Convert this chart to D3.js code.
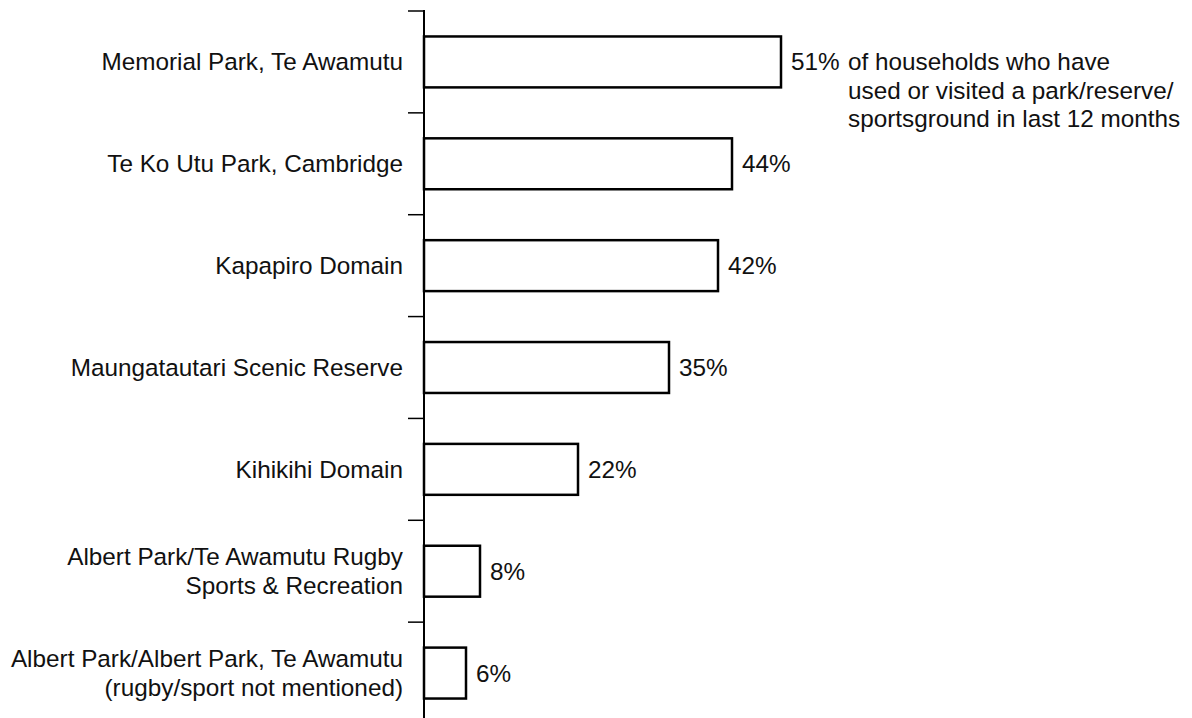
<!DOCTYPE html>
<html>
<head>
<meta charset="utf-8">
<script src="https://cdn.jsdelivr.net/npm/d3@7"></script>
<style>
  html, body { margin: 0; padding: 0; background: #fff; }
  svg text { font-family: "Liberation Sans", Arial, Helvetica, sans-serif; fill: #111; }
</style>
</head>
<body>
<svg id="chart" width="1192" height="718"></svg>
<script>
// Parks and reserves visited by households in the last 12 months
const categories = [
  ["Memorial Park, Te Awamutu"],
  ["Te Ko Utu Park, Cambridge"],
  ["Kapapiro Domain"],
  ["Maungatautari Scenic Reserve"],
  ["Kihikihi Domain"],
  ["Albert Park/Te Awamutu Rugby", "Sports & Recreation"],
  ["Albert Park/Albert Park, Te Awamutu", "(rugby/sport not mentioned)"]
];
const values = [51, 44, 42, 35, 22, 8, 6];
const valueLabels = ["51%", "44%", "42%", "35%", "22%", "8%", "6%"];
const noteLines = [
  "of households who have",
  "used or visited a park/reserve/",
  "sportsground in last 12 months"
];

const svg = d3.select("#chart");
const fontSize = 24.3;
const lineGap = 28.5;

const keys = categories.map((c, i) => i);

const x = d3.scaleLinear().domain([0, 51]).range([424, 781]);
const y = d3.scaleBand().domain(keys).range([11, 724]).paddingInner(0.5).paddingOuter(0.25);

// Category axis: line plus ticks between categories
const axisX = x(0);
svg.append("line")
  .attr("x1", axisX).attr("x2", axisX)
  .attr("y1", 10).attr("y2", 718)
  .attr("stroke", "#000").attr("stroke-width", 2);

const step = y.step();
const boundaries = keys.map(k => y(k) - step * 0.25);
svg.selectAll("line.tick").data(boundaries).enter().append("line")
  .attr("class", "tick")
  .attr("x1", axisX - 16).attr("x2", axisX)
  .attr("y1", d => d).attr("y2", d => d)
  .attr("stroke", "#000").attr("stroke-width", 1.5);

// Bars
svg.selectAll("rect.bar").data(values).enter().append("rect")
  .attr("class", "bar")
  .attr("x", axisX)
  .attr("y", (d, i) => y(i))
  .attr("width", d => x(d) - axisX)
  .attr("height", y.bandwidth())
  .attr("fill", "#fff")
  .attr("stroke", "#000")
  .attr("stroke-width", 2.5);

// Category labels
const catG = svg.append("g");
categories.forEach((lines, i) => {
  const cy = y(i) + y.bandwidth() / 2;
  const t = catG.append("text")
    .attr("x", axisX - 21)
    .attr("text-anchor", "end")
    .attr("font-size", fontSize);
  lines.forEach((ln, j) => {
    t.append("tspan")
      .attr("x", axisX - 21)
      .attr("y", cy + (j - (lines.length - 1) / 2) * lineGap)
      .attr("dy", "0.35em")
      .text(ln);
  });
});

// Value labels
svg.selectAll("text.val").data(values).enter().append("text")
  .attr("class", "val")
  .attr("x", d => x(d) + 10)
  .attr("y", (d, i) => y(i) + y.bandwidth() / 2)
  .attr("dy", "0.35em")
  .attr("font-size", fontSize)
  .text((d, i) => valueLabels[i]);

// Note next to the first bar
const noteY = y(0) + y.bandwidth() / 2;
const note = svg.append("text").attr("font-size", fontSize);
noteLines.forEach((ln, j) => {
  note.append("tspan")
    .attr("x", 848)
    .attr("y", noteY + j * lineGap)
    .attr("dy", "0.35em")
    .text(ln);
});
</script>
</body>
</html>
